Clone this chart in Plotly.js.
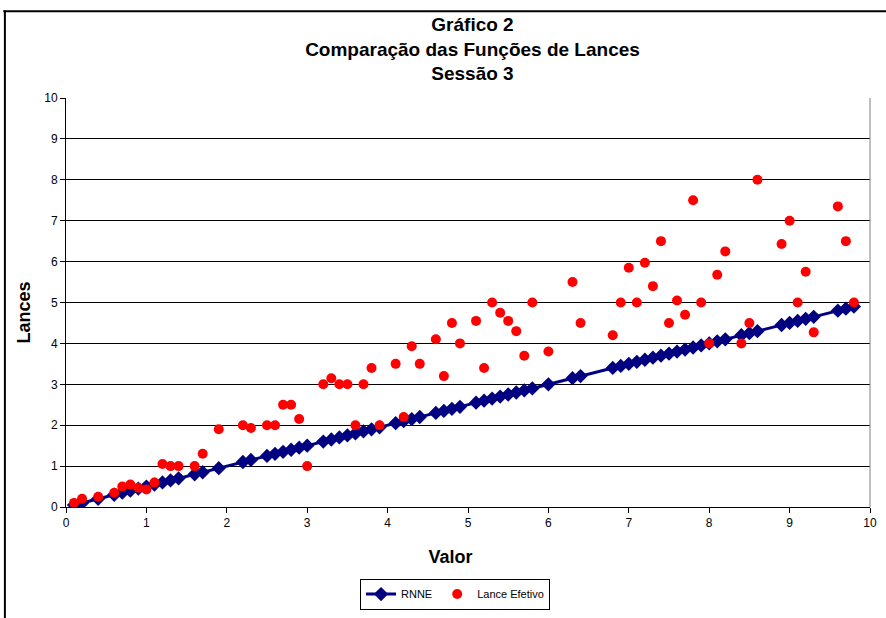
<!DOCTYPE html>
<html>
<head>
<meta charset="utf-8">
<script src="https://cdn.plot.ly/plotly-3.0.1.min.js"></script>
<style>
html,body{margin:0;padding:0;background:#fff;}
#chart{width:886px;height:618px;}
</style>
</head>
<body>
<div id="chart"></div>
<script>
// Valor (private value)
const valor = [0.1,0.2,0.4,0.6,0.7,0.8,0.9,1.0,1.1,1.2,1.3,1.4,1.6,1.7,1.9,2.2,2.3,2.5,2.6,2.7,2.8,2.9,3.0,3.2,3.3,3.4,3.5,3.6,3.7,3.8,3.9,4.1,4.2,4.3,4.4,4.6,4.7,4.8,4.9,5.1,5.2,5.3,5.4,5.5,5.6,5.7,5.8,6.0,6.3,6.4,6.8,6.9,7.0,7.1,7.2,7.3,7.4,7.5,7.6,7.7,7.8,7.9,8.0,8.1,8.2,8.4,8.5,8.6,8.9,9.0,9.1,9.2,9.3,9.6,9.7,9.8];
// RNNE bid
const rnne = [0.05,0.1,0.2,0.3,0.35,0.4,0.45,0.5,0.55,0.6,0.65,0.7,0.8,0.85,0.95,1.1,1.15,1.25,1.3,1.35,1.4,1.45,1.5,1.6,1.65,1.7,1.75,1.8,1.85,1.9,1.95,2.05,2.1,2.15,2.2,2.3,2.35,2.4,2.45,2.55,2.6,2.65,2.7,2.75,2.8,2.85,2.9,3.0,3.15,3.2,3.4,3.45,3.5,3.55,3.6,3.65,3.7,3.75,3.8,3.85,3.9,3.95,4.0,4.05,4.1,4.2,4.25,4.3,4.45,4.5,4.55,4.6,4.65,4.8,4.85,4.9];
// Lance Efetivo (actual bid)
const lance = [0.1,0.2,0.25,0.35,0.5,0.55,0.47,0.43,0.6,1.05,1.0,1.0,1.0,1.3,1.9,2.0,1.93,2.0,2.0,2.5,2.5,2.15,1.0,3.0,3.15,3.0,3.0,2.0,3.0,3.4,2.0,3.5,2.2,3.93,3.5,4.1,3.2,4.5,4.0,4.55,3.4,5.0,4.75,4.55,4.3,3.7,5.0,3.8,5.5,4.5,4.2,5.0,5.85,5.0,5.97,5.4,6.5,4.5,5.05,4.7,7.5,5.0,4.0,5.68,6.25,4.0,4.5,8.0,6.43,7.0,5.0,5.75,4.27,7.35,6.5,5.0];
const tickVals = [0,1,2,3,4,5,6,7,8,9,10];

const font = "Liberation Sans, Arial, sans-serif";
const nb = n => "\u00a0".repeat(n);

const traces = [
  {
    x: valor, y: rnne, name: "RNNE", type: "scatter", mode: "lines+markers",
    line: {color: "#000080", width: 3},
    marker: {symbol: "diamond", size: 11, color: "#000080"}
  },
  {
    x: valor, y: lance, name: "Lance Efetivo", type: "scatter", mode: "markers",
    marker: {symbol: "circle", size: 10, color: "#FF0000"}
  }
];

const layout = {
  width: 886, height: 618,
  margin: {l: 66, r: 16, t: 98, b: 111, autoexpand: false},
  paper_bgcolor: "#fff", plot_bgcolor: "#fff",
  font: {family: font, color: "#000", size: 12},
  title: {
    text: "<b>Gráfico 2<br>Comparação das Funções de Lances<br>Sessão 3</b>",
    font: {family: font, size: 19, color: "#000"},
    x: 0.5333, xanchor: "center", y: 0.95, yanchor: "top", yref: "container"
  },
  xaxis: {
    range: [0, 10], tickvals: tickVals, ticktext: tickVals.map(String),
    ticks: "outside", ticklen: 5, tickcolor: "#000",
    showline: true, linecolor: "#000", linewidth: 1,
    showgrid: false, zeroline: false,
    tickfont: {family: font, size: 12, color: "#000"},
    title: {text: "<b>Valor" + nb(7) + "</b>", font: {family: font, size: 18, color: "#000"}, standoff: 20}
  },
  yaxis: {
    range: [0, 10], tickvals: tickVals, ticktext: tickVals.map(String),
    ticks: "outside", ticklen: 5, tickcolor: "#000",
    showline: true, linecolor: "#000", linewidth: 1,
    showgrid: true, gridcolor: "#000", gridwidth: 1, zeroline: false,
    tickfont: {family: font, size: 12, color: "#000"},
    title: {text: "<b>Lances" + nb(4) + "</b>", font: {family: font, size: 18, color: "#000"}, standoff: 8}
  },
  showlegend: true,
  legend: {
    orientation: "h", x: 0.3657, xanchor: "left", y: -0.175, yanchor: "top",
    bordercolor: "#000", borderwidth: 1, bgcolor: "#fff",
    font: {family: font, size: 11, color: "#000"}
  },
  shapes: [
    // right border of plot area
    {type: "line", xref: "paper", yref: "paper", x0: 1, x1: 1, y0: 0, y1: 1, line: {color: "#808080", width: 1}},
    // outer chart frame (top and left)
    {type: "line", xref: "paper", yref: "paper", layer: "above", x0: -0.078, x1: 1.05, y0: 1.212, y1: 1.212, line: {color: "#000", width: 2}},
    {type: "line", xref: "paper", yref: "paper", layer: "above", x0: -0.076, x1: -0.076, y0: 1.214, y1: -0.3, line: {color: "#000", width: 2}}
  ]
};

Plotly.newPlot("chart", traces, layout, {displayModeBar: false, staticPlot: true});
</script>
</body>
</html>
